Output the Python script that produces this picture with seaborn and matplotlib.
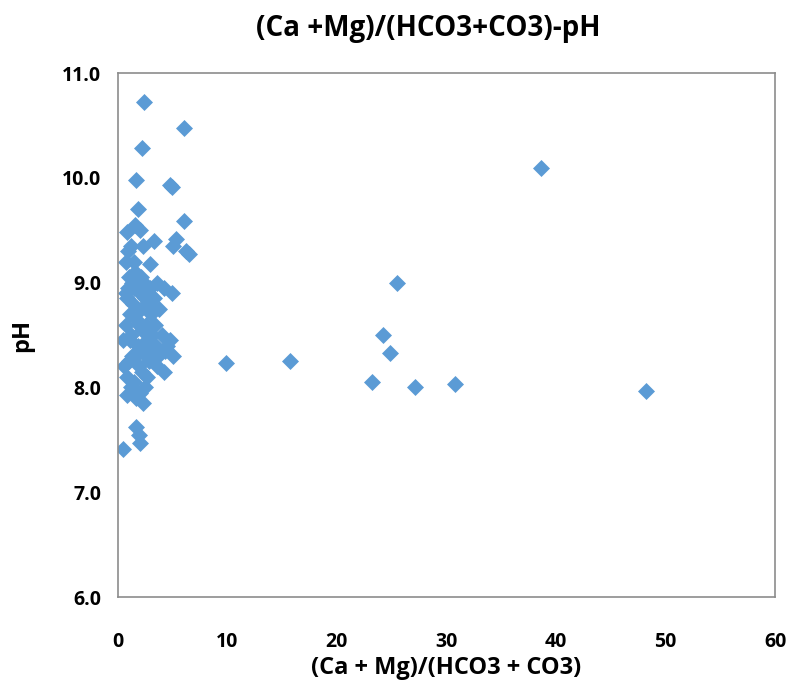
import matplotlib
matplotlib.use("Agg")
import matplotlib.pyplot as plt
import seaborn as sns
import pandas as pd

# ratio (Ca+Mg)/(HCO3+CO3) and pH
ratio = [
    2.4, 6.0, 2.2, 1.7, 4.8, 4.9, 1.8, 6.0, 1.6, 2.0, 0.8, 1.2, 2.3, 3.3, 5.3,
    5.0, 6.2, 6.5, 0.7, 1.5, 2.9, 0.9, 2.1,
    0.5, 0.7, 0.8, 0.9, 1.0, 1.1, 1.2, 1.3, 1.4, 1.5, 1.6, 1.7, 1.8, 1.9, 2.0,
    2.1, 2.2, 2.3, 2.4, 2.5, 2.6, 2.7, 2.8, 2.9, 3.0, 3.1, 3.2, 3.3, 3.4, 3.5,
    3.6, 3.8, 4.0, 4.2, 4.3, 4.5, 4.8, 5.0, 4.9, 4.2, 3.6, 0.6, 0.8, 1.0, 1.2,
    1.5, 1.7, 2.0, 2.3, 2.5, 2.7, 2.2, 1.6, 0.7, 1.3, 2.8, 3.0, 1.9, 1.1, 2.6,
    3.7, 0.8, 1.7, 1.9, 2.0, 0.5,
    9.9, 15.7, 23.2, 24.2, 24.8, 25.5, 27.1, 30.8, 38.6, 48.2,
]
ph = [
    10.72, 10.48, 10.28, 9.98, 9.93, 9.91, 9.70, 9.59, 9.55, 9.50, 9.48, 9.35, 9.35, 9.40, 9.42,
    9.35, 9.30, 9.27, 9.20, 9.20, 9.18, 9.30, 9.05,
    8.45, 8.60, 8.85, 8.95, 9.05, 8.70, 8.50, 8.30, 8.80, 8.95, 9.10, 8.65, 8.40, 8.20, 8.90,
    8.75, 8.55, 8.35, 9.00, 8.85, 8.60, 8.45, 8.25, 8.95, 8.70, 8.50, 8.30, 8.85, 8.60, 8.40,
    8.20, 8.75, 8.50, 8.15, 8.35, 8.40, 8.45, 8.30, 8.90, 8.95, 9.00, 8.20, 8.10, 8.25, 8.00,
    8.05, 7.90, 7.95, 7.85, 8.00, 8.10, 8.15, 8.30, 8.90, 9.00, 8.80, 8.40, 8.60, 8.45, 8.30,
    8.30, 7.93, 7.62, 7.55, 7.47, 7.41,
    8.23, 8.25, 8.05, 8.50, 8.33, 9.00, 8.00, 8.03, 10.09, 7.97,
]
x_ticks = [0, 10, 20, 30, 40, 50, 60]
y_ticks = [6, 7, 8, 9, 10, 11]

df = pd.DataFrame({"ratio": ratio, "pH": ph})

sns.set_theme(style="white")
plt.rcParams["font.family"] = ["Open Sans", "DejaVu Sans"]
plt.rcParams["text.color"] = "black"
plt.rcParams["axes.labelcolor"] = "black"
plt.rcParams["xtick.labelcolor"] = "black"
plt.rcParams["ytick.labelcolor"] = "black"

fig = plt.figure(figsize=(7.91, 6.89), dpi=100)
ax = fig.add_axes([0.149, 0.1335, 0.831, 0.7605])

sns.scatterplot(data=df, x="ratio", y="pH", marker="D", s=75,
                color="#5B9BD5", edgecolor="#5B9BD5", linewidth=0, ax=ax)

ax.set_xlim(0, 60)
ax.set_ylim(6, 11)
ax.set_xticks(x_ticks)
ax.set_yticks(y_ticks)
ax.set_yticklabels([f"{v:.1f}" for v in y_ticks])
for sp in ax.spines.values():
    sp.set_color("#8c8c8c")
    sp.set_linewidth(1.2)
ax.tick_params(axis="y", direction="out", length=8, color="#8c8c8c", width=1, pad=4)
ax.tick_params(axis="x", direction="out", length=6, color="#8c8c8c", width=1, pad=19)
ax.tick_params(labelsize=14)
for lab in ax.get_xticklabels() + ax.get_yticklabels():
    lab.set_fontweight("bold")

ax.set_xlabel("(Ca + Mg)/(HCO3 + CO3)", fontsize=17, fontweight="bold", va="center")
ax.xaxis.set_label_coords(0.5, -0.1355)
ax.set_ylabel("pH", fontsize=17, fontweight="bold", va="center")
ax.yaxis.set_label_coords(-0.146, 0.5)
fig.text(0.541, 0.959, "(Ca +Mg)/(HCO3+CO3)-pH", ha="center", va="center",
         fontsize=20, fontweight="bold")

fig.savefig("out.png", dpi=100)
